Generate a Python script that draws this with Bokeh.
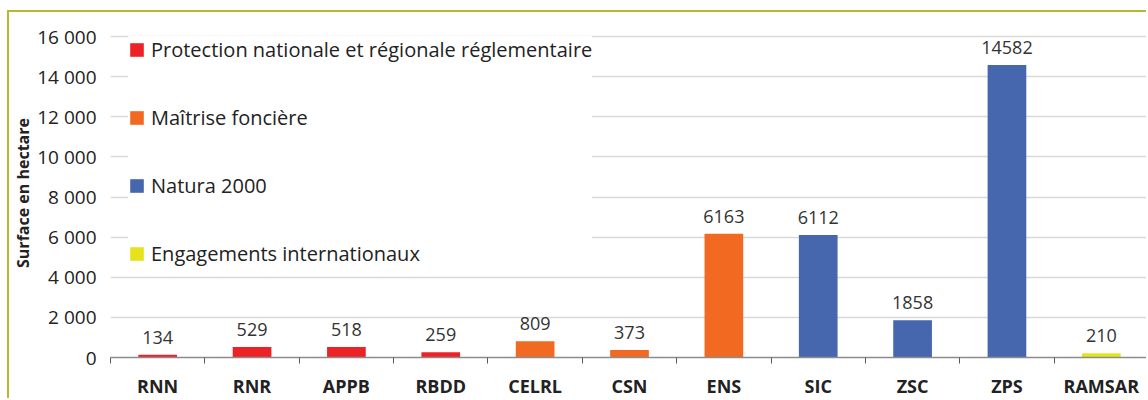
from bokeh.plotting import figure
from bokeh.models import (Range1d, FixedTicker, Legend, LegendItem, ColumnDataSource,
                          LabelSet)
from bokeh.core.properties import value
from bokeh.embed import file_html
from bokeh.resources import INLINE

# ---- data ----
categories = ["RNN", "RNR", "APPB", "RBDD", "CELRL", "CSN", "ENS", "SIC", "ZSC", "ZPS", "RAMSAR"]
values = [134, 529, 518, 259, 809, 373, 6163, 6112, 1858, 14582, 210]
groups = ["Protection nationale et régionale réglementaire"] * 4 + \
         ["Maîtrise foncière"] * 3 + ["Natura 2000"] * 3 + ["Engagements internationaux"]
group_names = ["Protection nationale et régionale réglementaire", "Maîtrise foncière",
               "Natura 2000", "Engagements internationaux"]
group_colors = ["#ed2227", "#f26922", "#4666ae", "#e6e31c"]
y_ticks = [0, 2000, 4000, 6000, 8000, 10000, 12000, 14000, 16000]
y_tick_labels = ["0", "2 000", "4 000", "6 000", "8 000", "10 000", "12 000", "14 000", "16 000"]
y_label = "Surface en hectare"

FONT = "Open Sans"
n = len(categories)
centers = [i + 0.5 for i in range(n)]
bounds = list(range(n + 1))

p = figure(width=1139, height=388, output_backend="svg", toolbar_location=None,
           x_range=Range1d(0, n), y_range=Range1d(0, 16400),
           min_border_left=97, min_border_right=0, min_border_top=16, min_border_bottom=41)
p.styles = {"border-top": "2px solid #b5b92c", "border-left": "2px solid #b5b92c",
            "margin-left": "7px", "margin-top": "10px"}
p.outline_line_color = None
p.background_fill_color = "white"
p.border_fill_color = "white"

items = []
for gname, gcol in zip(group_names, group_colors):
    xs = [c for c, g in zip(centers, groups) if g == gname]
    ys = [v for v, g in zip(values, groups) if g == gname]
    src = ColumnDataSource(dict(x=xs, top=ys))
    r = p.vbar(x="x", top="top", width=0.41, bottom=0, source=src,
               fill_color=gcol, line_color=None)
    items.append(LegendItem(label=gname, renderers=[r]))

lab_src = ColumnDataSource(dict(x=centers, y=values, t=[str(v) for v in values]))
p.add_layout(LabelSet(x="x", y="y", text="t", source=lab_src, text_align="center",
                      text_baseline="bottom", y_offset=11, text_font=value(FONT),
                      text_font_size="18px", text_color="#333333"))

legend = Legend(items=items, location=(18, 90), orientation="vertical",
                background_fill_color="white", background_fill_alpha=1.0,
                border_line_color=None, padding=8, spacing=41,
                glyph_width=17, glyph_height=17, label_height=20, label_standoff=6,
                label_text_font=FONT, label_text_font_size="20px",
                label_text_color="#222222", margin=0)
p.add_layout(legend)

# x axis: labels at centers, tick marks between categories (minor ticks)
xa = p.xaxis[0]
xa.ticker = FixedTicker(ticks=centers, minor_ticks=bounds)
xa.major_label_overrides = {c: cat for c, cat in zip(centers, categories)}
xa.major_tick_line_color = None
xa.major_tick_out = 0
xa.major_tick_in = 0
xa.minor_tick_out = 6
xa.minor_tick_in = 0
xa.minor_tick_line_color = "#595959"
xa.axis_line_color = "#8c8c8c"
xa.axis_line_width = 1.5
xa.major_label_standoff = 10
xa.major_label_text_font = FONT
xa.major_label_text_font_style = "bold"
xa.major_label_text_font_size = "18px"
xa.major_label_text_color = "#222222"
p.xgrid.grid_line_color = None

ya = p.yaxis[0]
ya.ticker = FixedTicker(ticks=y_ticks)
ya.major_label_overrides = {t: l for t, l in zip(y_ticks, y_tick_labels)}
ya.axis_line_color = None
ya.major_tick_line_color = None
ya.minor_tick_line_color = None
ya.major_tick_out = 0
ya.major_tick_in = 0
ya.major_label_standoff = 14
ya.major_label_text_font = FONT
ya.major_label_text_font_size = "19px"
ya.major_label_text_color = "#222222"
ya.axis_label = y_label
ya.axis_label_text_font = FONT
ya.axis_label_text_font_style = "bold"
ya.axis_label_text_font_size = "16px"
ya.axis_label_text_color = "#222222"
ya.axis_label_standoff = 0
p.ygrid.ticker = FixedTicker(ticks=y_ticks)
p.ygrid.grid_line_color = "#d9d9d9"
p.ygrid.grid_line_width = 1.5

open("out.html", "w").write(file_html(p, INLINE))
